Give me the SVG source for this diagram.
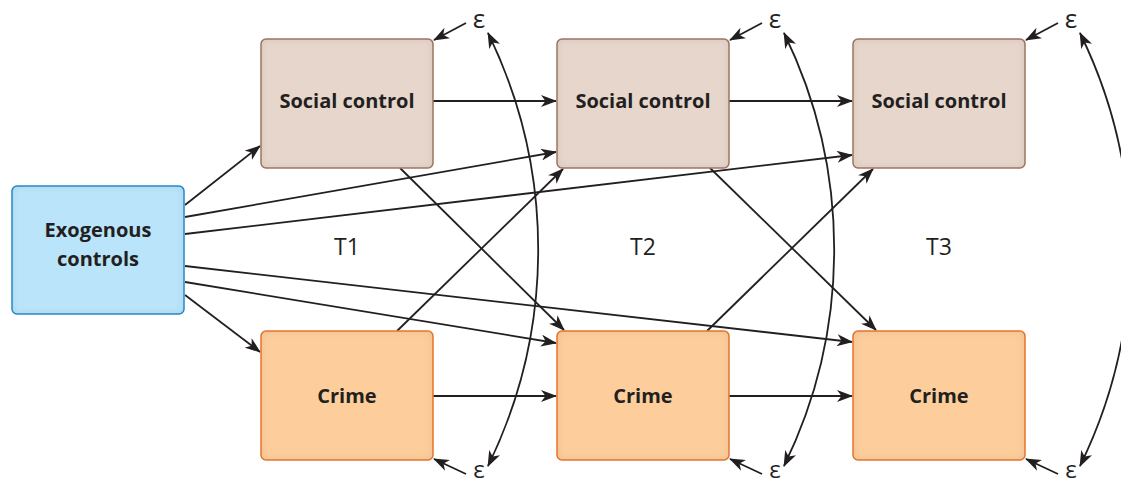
<svg xmlns="http://www.w3.org/2000/svg" width="1121" height="486" viewBox="0 0 1121 486">
<style>
.sc{fill:#e6d6cc;stroke:#a67b69;stroke-width:1.5}
.cr{fill:#fdce9b;stroke:#f07a30;stroke-width:1.5}
.ex{fill:#b9e4f9;stroke:#2b8fd1;stroke-width:1.5}
.lbl{font-family:"Open Sans","Liberation Sans",sans-serif;font-weight:700;font-size:20px;fill:#231f20;text-anchor:middle}
.t{font-family:"Open Sans","Liberation Sans",sans-serif;font-size:23px;fill:#231f20;text-anchor:middle}
.eps{font-family:"Open Sans","DejaVu Sans",sans-serif;font-size:26px;fill:#231f20;text-anchor:middle}
.epsb{font-family:"Open Sans","DejaVu Sans",sans-serif;font-size:24px;fill:#231f20;text-anchor:middle}
.c{fill:none;stroke:#231f20;stroke-width:1.8;marker-end:url(#ah)}
.d{fill:none;stroke:#231f20;stroke-width:1.8;marker-end:url(#ah);marker-start:url(#ah)}
</style>
<defs>
<marker id="ah" viewBox="0 0 16 12" refX="15" refY="6" markerWidth="16" markerHeight="12" markerUnits="userSpaceOnUse" orient="auto-start-reverse">
<path d="M0,0 L16,6 L0,12 L4.5,6 z" fill="#231f20"/>
</marker>
<filter id="inset" x="-5%" y="-5%" width="110%" height="110%">
<feGaussianBlur in="SourceAlpha" stdDeviation="4" result="blur"/>
<feComposite in="SourceAlpha" in2="blur" operator="arithmetic" k2="1" k3="-1" result="edge"/>
<feFlood flood-color="#000" flood-opacity="0.22"/>
<feComposite in2="edge" operator="in" result="shadow"/>
<feMerge><feMergeNode in="SourceGraphic"/><feMergeNode in="shadow"/></feMerge>
</filter>
</defs>

<g id="connectors">
<line class="c" x1="433" y1="101" x2="556" y2="101"/>
<line class="c" x1="729" y1="101" x2="852" y2="101"/>
<line class="c" x1="433" y1="396" x2="556" y2="396"/>
<line class="c" x1="729" y1="396" x2="852" y2="396"/>
<line class="c" x1="185" y1="205" x2="260" y2="146"/>
<line class="c" x1="185" y1="295" x2="260" y2="352"/>
<line class="c" x1="185" y1="217" x2="556" y2="152"/>
<line class="c" x1="185" y1="234" x2="852" y2="155"/>
<line class="c" x1="185" y1="266" x2="852" y2="342"/>
<line class="c" x1="185" y1="282" x2="556" y2="343"/>
<line class="c" x1="400" y1="168" x2="564" y2="330"/>
<line class="c" x1="397" y1="331" x2="563" y2="169"/>
<line class="c" x1="710" y1="168" x2="876" y2="330"/>
<line class="c" x1="707" y1="331" x2="873" y2="169"/>
<line class="c" x1="466" y1="23" x2="434" y2="40"/>
<line class="c" x1="762" y1="23" x2="730" y2="40"/>
<line class="c" x1="1058" y1="23" x2="1026" y2="40"/>
<line class="c" x1="466" y1="474" x2="434" y2="459"/>
<line class="c" x1="762" y1="474" x2="730" y2="459"/>
<line class="c" x1="1058" y1="474" x2="1026" y2="459"/>
<path class="d" d="M488,33 A492,492 0 0 1 488,466"/>
<path class="d" d="M784,33 A492,492 0 0 1 784,466"/>
<path class="d" d="M1080,33 A492,492 0 0 1 1080,466"/>
</g>

<g id="exogenous">
<rect class="ex" x="12" y="186" width="172" height="128" rx="5" filter="url(#inset)"/>
<text class="lbl" x="98" y="237">Exogenous</text>
<text class="lbl" x="98" y="266">controls</text>
</g>
<g id="sc1"><rect class="sc" x="261" y="39" width="172" height="129" rx="5" filter="url(#inset)"/><text class="lbl" x="347" y="108">Social control</text></g>
<g id="sc2"><rect class="sc" x="557" y="39" width="172" height="129" rx="5" filter="url(#inset)"/><text class="lbl" x="643" y="108">Social control</text></g>
<g id="sc3"><rect class="sc" x="853" y="39" width="172" height="129" rx="5" filter="url(#inset)"/><text class="lbl" x="939" y="108">Social control</text></g>
<g id="cr1"><rect class="cr" x="261" y="331" width="172" height="129" rx="5" filter="url(#inset)"/><text class="lbl" x="347" y="403">Crime</text></g>
<g id="cr2"><rect class="cr" x="557" y="331" width="172" height="129" rx="5" filter="url(#inset)"/><text class="lbl" x="643" y="403">Crime</text></g>
<g id="cr3"><rect class="cr" x="853" y="331" width="172" height="129" rx="5" filter="url(#inset)"/><text class="lbl" x="939" y="403">Crime</text></g>

<g id="time-labels">
<text class="t" x="347" y="255">T1</text>
<text class="t" x="643" y="255">T2</text>
<text class="t" x="939" y="255">T3</text>
</g>
<g id="errors">
<text class="eps" x="479" y="28">ε</text>
<text class="eps" x="775" y="28">ε</text>
<text class="eps" x="1071" y="28">ε</text>
<text class="epsb" x="479" y="478">ε</text>
<text class="epsb" x="775" y="478">ε</text>
<text class="epsb" x="1071" y="478">ε</text>
</g>
</svg>
